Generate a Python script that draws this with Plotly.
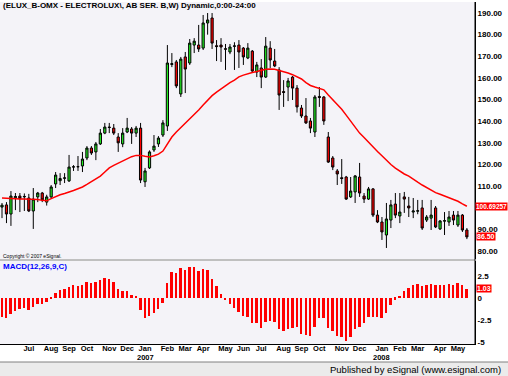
import pandas as pd
import plotly.graph_objects as go

# ---------------- data (weekly bars) ----------------
week_start = "2006-05-22"
n_weeks = 105
dates = pd.date_range(week_start, periods=n_weeks, freq="7D")

opens = [100.3, 101.3, 97.1, 104.6, 105.4, 105.0, 104.5, 98.5, 105.0, 106.8,
         102.6, 105.0, 111.0, 112.5, 113.6, 112.4, 118.8, 118.9, 119.3, 123.0,
         127.6, 125.8, 129.5, 134.5, 137.3, 136.8, 132.7, 129.5, 135.0, 136.4,
         134.5, 136.8, 112.0, 118.4, 126.7, 129.5, 133.6, 137.8, 166.2, 167.4,
         152.6, 169.7, 166.9, 175.2, 175.2, 173.8, 185.4, 187.7, 174.9, 175.2,
         173.5, 172.0, 174.6, 175.2, 173.8, 169.2, 172.4, 162.7, 164.6, 160.4,
         173.8, 167.8, 163.7, 153.7, 155.8, 160.4, 155.3, 146.1, 142.4, 140.1,
         135.0, 151.4, 151.2, 132.7, 123.0, 117.0, 113.9, 114.2, 105.0, 107.3,
         114.2, 105.4, 104.0, 108.7, 96.6, 93.4, 87.4, 94.3, 101.7, 96.2,
         105.0, 100.8, 98.0, 98.4, 99.9, 94.3, 95.2, 99.9, 90.2, 93.8,
         93.4, 96.6, 92.0, 96.6, 89.7]
highs = [102.2, 102.6, 107.7, 106.8, 106.8, 106.6, 106.4, 109.1, 107.3, 107.3,
         106.0, 110.5, 116.5, 116.0, 116.0, 124.4, 119.7, 123.9, 125.8, 128.5,
         128.5, 130.4, 136.4, 139.2, 139.2, 138.7, 134.5, 136.8, 141.5, 137.3,
         137.8, 139.2, 118.4, 126.5, 133.6, 133.1, 140.5, 175.2, 171.5, 168.3,
         169.7, 172.0, 178.0, 178.4, 184.5, 189.1, 190.0, 190.0, 177.5, 178.4,
         175.7, 175.7, 176.5, 177.5, 174.3, 176.1, 172.9, 167.4, 168.7, 178.9,
         177.0, 173.4, 165.0, 159.0, 160.0, 160.9, 156.7, 147.5, 150.7, 141.5,
         152.1, 155.8, 151.6, 135.0, 123.9, 117.9, 122.5, 114.7, 114.2, 115.1,
         120.7, 106.8, 109.6, 109.1, 98.9, 95.7, 102.2, 103.6, 106.8, 106.8,
         107.3, 105.0, 104.5, 103.6, 103.6, 96.6, 103.6, 100.8, 94.3, 98.0,
         98.5, 98.5, 98.5, 97.1, 90.6]
lows = [95.2, 92.9, 91.6, 98.9, 98.0, 98.5, 98.0, 90.2, 102.6, 102.6,
        101.0, 104.5, 109.1, 110.5, 111.4, 111.9, 117.0, 117.0, 116.5, 122.0,
        124.4, 122.0, 129.0, 134.0, 134.5, 133.6, 125.8, 128.0, 134.5, 129.5,
        132.7, 111.4, 109.6, 117.9, 125.8, 128.1, 132.7, 135.5, 165.0, 155.3,
        151.2, 153.0, 166.0, 171.5, 172.0, 172.9, 180.0, 173.4, 167.8, 167.4,
        163.7, 171.0, 163.7, 164.6, 166.0, 168.7, 162.3, 160.4, 155.3, 160.0,
        164.6, 165.0, 145.2, 146.6, 149.3, 149.8, 144.0, 141.5, 138.7, 134.5,
        132.7, 146.6, 138.3, 120.7, 117.4, 110.5, 111.0, 103.6, 104.5, 102.2,
        105.0, 102.2, 103.6, 95.7, 92.9, 85.1, 81.4, 90.6, 95.2, 92.9,
        97.6, 95.7, 95.2, 97.0, 89.7, 93.4, 89.7, 90.6, 89.7, 87.4,
        91.6, 92.0, 91.1, 88.8, 85.5]
closes = [101.2, 97.1, 105.4, 105.2, 104.2, 105.2, 98.5, 104.0, 106.8, 103.6,
          105.0, 109.6, 115.1, 113.5, 113.8, 118.8, 118.9, 119.0, 122.5, 127.6,
          125.3, 129.5, 134.5, 137.3, 137.1, 134.5, 130.0, 134.5, 136.8, 134.5,
          136.8, 112.8, 117.0, 125.8, 128.5, 132.2, 139.2, 166.9, 166.6, 156.3,
          168.7, 164.1, 176.1, 177.0, 173.4, 185.4, 186.8, 176.1, 174.5, 174.3,
          173.3, 174.3, 174.8, 172.0, 169.7, 173.8, 163.2, 166.0, 160.4, 174.7,
          168.3, 165.5, 152.1, 153.3, 158.6, 155.3, 146.6, 142.4, 139.2, 136.8,
          151.2, 151.0, 140.1, 121.1, 118.8, 115.6, 113.5, 104.0, 107.7, 114.7,
          106.8, 104.0, 108.7, 96.6, 93.4, 88.8, 94.8, 101.3, 96.6, 98.0,
          104.0, 99.9, 98.5, 98.6, 90.6, 95.7, 96.6, 91.1, 93.9, 94.0,
          95.7, 94.3, 96.6, 89.7, 86.5]

moving_avg = [104.5, 104.3, 104.1, 104.0, 104.0, 104.0, 104.0, 104.0, 103.8, 103.4,
              103.2, 104.2, 105.2, 106.0, 106.6, 107.2, 108.0, 108.8, 109.6, 110.8,
              112.0, 113.3, 114.6, 116.5, 118.4, 119.6, 120.6, 121.3, 122.6, 123.6,
              124.2, 124.2, 123.8, 123.5, 124.0, 124.8, 126.2, 129.5, 132.7, 135.0,
              137.0, 139.0, 141.0, 143.3, 145.2, 147.5, 149.8, 151.8, 153.4, 155.0,
              156.4, 157.8, 159.0, 160.5, 161.3, 162.0, 162.5, 163.0, 163.6, 164.0,
              164.1, 164.0, 163.4, 163.0, 162.3, 161.5, 160.5, 159.5, 157.8, 156.5,
              155.8, 155.3, 154.5, 152.1, 150.0, 148.0, 145.5, 142.8, 140.0, 137.5,
              134.5, 132.5, 130.2, 128.2, 126.0, 124.0, 121.8, 120.0, 118.3, 116.8,
              115.6, 114.6, 113.0, 111.8, 110.5, 109.2, 108.0, 107.0, 106.2, 105.4,
              104.6, 103.8, 103.0, 101.8, 100.69257]

macd_hist = [-2.13, -2.31, -1.87, -1.49, -1.27, -1.12, -1.31, -1.08, -0.63, -0.63,
             -0.45, -0.11, 0.56, 0.86, 0.97, 1.23, 1.42, 1.34, 1.42, 1.79,
             1.72, 1.87, 2.09, 2.24, 2.16, 1.79, 1.04, 0.82, 0.75, 0.37,
             0.26, -1.38, -2.24, -2.05, -1.75, -1.27, -0.56, 1.68, 2.91, 2.80,
             3.36, 3.13, 3.54, 3.54, 3.06, 3.28, 3.21, 2.16, 1.31, 0.41,
             -0.26, -0.63, -1.12, -1.57, -2.01, -2.13, -2.80, -2.87, -3.43, -2.69,
             -2.61, -2.69, -3.51, -3.73, -3.51, -3.43, -3.25, -4.07, -4.18, -4.36,
             -3.25, -2.24, -2.31, -3.36, -3.73, -4.36, -4.48, -4.85, -4.48, -3.51,
             -3.25, -2.87, -2.13, -2.20, -2.20, -2.31, -1.75, -0.82, -0.19, 0.22,
             0.75, 1.16, 1.42, 1.60, 1.31, 1.49, 1.60, 1.42, 1.42, 1.49,
             1.60, 1.49, 1.72, 1.42, 1.04]

# 100.00 is hidden behind the last-value box in the original, so it is not listed
price_ticks = [80, 90, 110, 120, 130, 140, 150, 160, 170, 180, 190]
macd_ticks = [2.5, 0, -2.5, -5]
macd_tick_text = ["2.5", "0", "-2.5", "-5"]
month_ticks = ["2006-07-03", "2006-08-07", "2006-09-04", "2006-10-02", "2006-11-06",
               "2006-12-04", "2007-01-01", "2007-02-05", "2007-03-05", "2007-04-02",
               "2007-05-07", "2007-06-04", "2007-07-02", "2007-08-06", "2007-09-03",
               "2007-10-01", "2007-11-05", "2007-12-03", "2008-01-07", "2008-02-04",
               "2008-03-03", "2008-04-07", "2008-05-05"]
month_labels = ["Jul", "Aug", "Sep", "Oct", "Nov", "Dec", "Jan", "Feb", "Mar",
                "Apr", "May", "Jun", "Jul", "Aug", "Sep", "Oct", "Nov", "Dec",
                "Jan", "Feb", "Mar", "Apr", "May"]
year_ticks = ["2007-01-01", "2008-01-07"]
year_labels = ["2007", "2008"]

title_text = "(ELUX_B-OMX - ELECTROLUX\\, AB SER. B,W) Dynamic,0:00-24:00"
last_ma_label = "100.69257"
last_close_label = "86.50"
last_macd_label = "1.03"

# ---------------- layout geometry ----------------
W, H = 508, 376
ML, MR, MT, MB = 0, 33, 2, 32
PH = H - MT - MB          # plot area height in px
PW = W - ML - MR


def py(pix):  # pixel row -> paper y
    return (H - MB - pix) / PH


def px(pix):  # pixel col -> paper x
    return (pix - ML) / PW


d0 = dates[0]
day_px = 4.47 / 7.0
x_start = d0 - pd.Timedelta(days=2 / day_px)
x_end = d0 + pd.Timedelta(days=(PW - 2) / day_px)

NARROW = "Liberation Sans Narrow, Arial Narrow, Liberation Sans, sans-serif"
SANS = "Liberation Sans, Arial, sans-serif"
axis_font = dict(family=NARROW, size=8, color="black", weight="bold")
xaxis_font = dict(family=NARROW, size=7.5, color="black", weight="bold")

fig = go.Figure()

fig.add_trace(go.Candlestick(
    x=dates, open=opens, high=highs, low=lows, close=closes,
    increasing=dict(line=dict(color="#000000", width=1), fillcolor="#22ee22"),
    decreasing=dict(line=dict(color="#000000", width=1), fillcolor="#ff0000"),
    whiskerwidth=0, xaxis="x", yaxis="y", showlegend=False, hoverinfo="skip",
))

fig.add_trace(go.Scatter(
    x=dates, y=moving_avg, mode="lines", line=dict(color="#ff0000", width=1.5),
    xaxis="x", yaxis="y", showlegend=False, hoverinfo="skip",
))

fig.add_trace(go.Bar(
    x=dates, y=macd_hist, marker=dict(color="#ff0000", line=dict(width=0)),
    width=3.0 * 86400000, xaxis="x", yaxis="y2", showlegend=False, hoverinfo="skip",
))

fig.update_layout(
    width=W, height=H,
    margin=dict(l=ML, r=MR, t=MT, b=MB, autoexpand=False),
    paper_bgcolor="#ffffff",
    plot_bgcolor="#f4f3f8",
    bargap=0,
    xaxis=dict(
        type="date", range=[x_start, x_end], anchor="y2",
        tickvals=month_ticks, ticktext=month_labels, tickfont=xaxis_font, tickangle=0,
        showgrid=False, zeroline=False, showline=True, linecolor="#000000", linewidth=1,
        ticks="", ticklen=0, ticklabelstandoff=-3, rangeslider=dict(visible=False),
    ),
    yaxis=dict(
        domain=[py(259), 1], range=[76.3, 195.1], side="right", anchor="x",
        tickvals=price_ticks, ticktext=[f"{v:.2f}" for v in price_ticks], tickfont=axis_font,
        showgrid=False, zeroline=False, showline=True, linecolor="#000000", linewidth=1,
        ticks="", ticklen=0, ticklabelstandoff=0,
    ),
    yaxis2=dict(
        domain=[0, py(261)], range=[-5.23, 4.2], side="right", anchor="x",
        tickvals=macd_ticks, ticktext=macd_tick_text, tickfont=axis_font,
        showgrid=False, zeroline=False, showline=True, linecolor="#000000", linewidth=1,
        ticks="", ticklen=0, ticklabelstandoff=0,
    ),
)

shapes = [
    # panel divider
    dict(type="line", xref="paper", yref="paper", x0=0, x1=1, y0=py(260), y1=py(260),
         line=dict(color="#808080", width=1)),
    # continuous right axis line
    dict(type="line", xref="paper", yref="paper", x0=1, x1=1, y0=0, y1=1,
         line=dict(color="#000000", width=1)),
    # footer band
    dict(type="rect", xref="paper", yref="paper", x0=px(-2), x1=px(W + 2),
         y0=py(H + 2), y1=py(362), fillcolor="#ebebeb", line=dict(width=0), layer="below"),
    dict(type="line", xref="paper", yref="paper", x0=px(0), x1=px(W), y0=py(362), y1=py(362),
         line=dict(color="#808080", width=1)),
]
fig.update_layout(shapes=shapes)

box_font = dict(family=NARROW, size=7, color="white", weight="bold")
annotations = [
    dict(text=title_text, xref="paper", yref="paper", x=px(1), y=py(5),
         xanchor="left", yanchor="middle", showarrow=False,
         font=dict(family=SANS, size=8, color="black", weight="bold")),
    dict(text="Copyright © 2007 eSignal.", xref="paper", yref="paper", x=px(1), y=py(256),
         xanchor="left", yanchor="middle", showarrow=False,
         font=dict(family=SANS, size=5, color="black")),
    dict(text="MACD(12,26,9,C)", xref="paper", yref="paper", x=px(1), y=py(266),
         xanchor="left", yanchor="middle", showarrow=False,
         font=dict(family=SANS, size=8, color="#0000ff", weight="bold")),
    dict(text="Published by eSignal (www.esignal.com)", xref="paper", yref="paper",
         x=px(503), y=py(369), xanchor="right", yanchor="middle", showarrow=False,
         font=dict(family=SANS, size=9.5, color="black")),
    dict(text=last_ma_label, xref="paper", yref="y", x=px(475), y=moving_avg[-1],
         xanchor="left", yanchor="middle", showarrow=False, bgcolor="#ff0000", borderpad=0,
         font=dict(family=NARROW, size=6.5, color="white", weight="bold")),
    dict(text=last_close_label, xref="paper", yref="y", x=px(476), y=closes[-1],
         xanchor="left", yanchor="middle", showarrow=False, bgcolor="#ff0000", borderpad=0,
         font=box_font),
    dict(text=last_macd_label, xref="paper", yref="y2", x=px(476), y=macd_hist[-1],
         xanchor="left", yanchor="middle", showarrow=False, bgcolor="#ff0000", borderpad=0,
         font=box_font),
]
for d, lbl in zip(year_ticks, year_labels):
    annotations.append(dict(text=lbl, xref="x", yref="paper", x=d, y=py(357.5),
                            xanchor="center", yanchor="middle", showarrow=False,
                            font=xaxis_font))
fig.update_layout(annotations=annotations)

fig.write_html("out.html", config={"displayModeBar": False},
               post_script="document.body.style.margin='0';")
